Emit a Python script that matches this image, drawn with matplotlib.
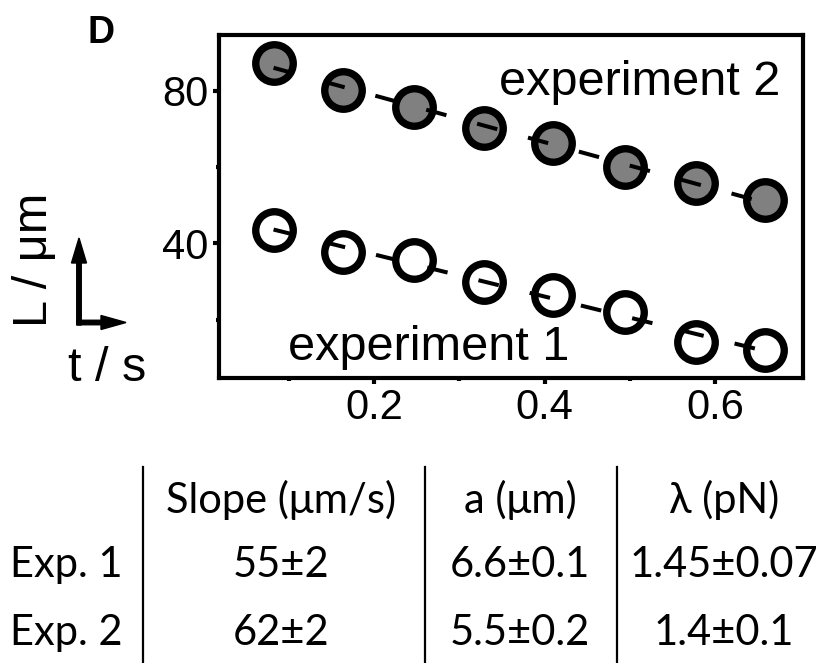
import numpy as np
import matplotlib
matplotlib.use("Agg")
import matplotlib.pyplot as plt
from matplotlib.patches import FancyArrow

# ---------------- data ----------------
t_s = [0.082, 0.164, 0.247, 0.329, 0.410, 0.494, 0.577, 0.659]
exp1_L = [43.5, 37.8, 35.6, 29.9, 26.4, 22.1, 14.2, 12.0]
exp2_L = [87.2, 80.2, 75.8, 70.1, 66.2, 60.1, 55.7, 51.3]

x_major = [0.2, 0.4, 0.6]
x_minor = [0.1, 0.3, 0.5]
y_major = [40, 80]
y_minor = [20, 60]

row_labels = ["Exp. 1", "Exp. 2"]
col_headers = ["Slope (\u03bcm/s)", "a (\u03bcm)", "\u03bb (pN)"]
slope_vals = ["55\u00b12", "62\u00b12"]
a_vals = ["6.6\u00b10.1", "5.5\u00b10.2"]
lam_vals = ["1.45\u00b10.07", "1.4\u00b10.1"]

# ---------------- figure ----------------
W, H = 827, 663
fig = plt.figure(figsize=(W / 100, H / 100), dpi=100)
plt.rcParams['font.family'] = ['Liberation Sans', 'DejaVu Sans']


def fx(x):
    return x / W


def fy(y):
    return 1 - y / H


ax_l, ax_r, ax_t, ax_b = 219, 803, 35, 378
ax = fig.add_axes([fx(ax_l), fy(ax_b), (ax_r - ax_l) / W, (ax_b - ax_t) / H])

ax.set_xlim(0.018, 0.703)
ax.set_ylim(4.7, 94.6)

mk = dict(marker='o', ms=27, mew=5.3, mec='black', ls='none', zorder=2)
ax.plot(t_s, exp2_L, mfc='#808080', **mk)
ax.plot(t_s, exp1_L, mfc='white', **mk)

lw = 2.9
for L in (exp1_L, exp2_L):
    p = np.polyfit(t_s, L, 1)
    tt = np.array([t_s[0], t_s[-1]])
    ax.plot(tt, np.polyval(p, tt), color='black', lw=lw,
            ls=(0, (5.2, 7.9)), zorder=3, solid_capstyle='butt')

ax.set_xticks(x_major)
ax.set_xticks(x_minor, minor=True)
ax.set_yticks(y_major)
ax.set_yticks(y_minor, minor=True)
ax.set_xticklabels(["0.2", "0.4", "0.6"])
ax.set_yticklabels(["40", "80"])
ax.tick_params(which='major', direction='out', length=4.5, width=3,
               labelsize=30, pad=3)
ax.tick_params(which='minor', direction='out', length=2.5, width=3)
for s in ax.spines.values():
    s.set_linewidth(3)

# text inside plot
fig.text(fx(780), fy(95), "experiment 2", fontsize=35, ha='right', va='baseline')
fig.text(fx(288), fy(360), "experiment 1", fontsize=35, ha='left', va='baseline')

# panel label & axis labels
fig.text(fx(88), fy(43), "D", fontsize=27, fontweight='bold', ha='left', va='baseline')
fig.text(fx(35), fy(260), "L / \u03bcm", fontsize=35, rotation=90, ha='center', va='center')
fig.text(fx(68), fy(381), "t / s", fontsize=35, ha='left', va='baseline')

# axis arrows (inches, isotropic)
tr = fig.dpi_scale_trans
fig.add_artist(FancyArrow(0.79, (H - 325) / 100, 0, (325 - 238) / 100, width=0.045,
                          head_width=0.15, head_length=0.25, length_includes_head=True,
                          color='black', transform=tr))
fig.add_artist(FancyArrow(0.767, (H - 322.5) / 100, (126 - 76.7) / 100, 0, width=0.045,
                          head_width=0.14, head_length=0.25, length_includes_head=True,
                          color='black', transform=tr))

# ---------------- table ----------------
tfont = ['Lato', 'DejaVu Sans']
tsize = 30
col_x = [281, 520, 724]
head_y = 513
row_y = [577, 645]
label_x = 10

for cx, h in zip(col_x, col_headers):
    fig.text(fx(cx), fy(head_y), h, fontsize=tsize, family=tfont, ha='center', va='baseline')
for ry, lab in zip(row_y, row_labels):
    fig.text(fx(label_x), fy(ry), lab, fontsize=tsize, family=tfont, ha='left', va='baseline')
for vals, cx in zip((slope_vals, a_vals, lam_vals), col_x):
    for ry, v in zip(row_y, vals):
        fig.text(fx(cx), fy(ry), v, fontsize=tsize, family=tfont, ha='center', va='baseline')

for vx in (143, 424.5, 617):
    fig.add_artist(plt.Line2D([fx(vx), fx(vx)], [fy(467), fy(663)], color='black',
                              lw=1.6, transform=fig.transFigure))

fig.savefig("out.png", dpi=100)
